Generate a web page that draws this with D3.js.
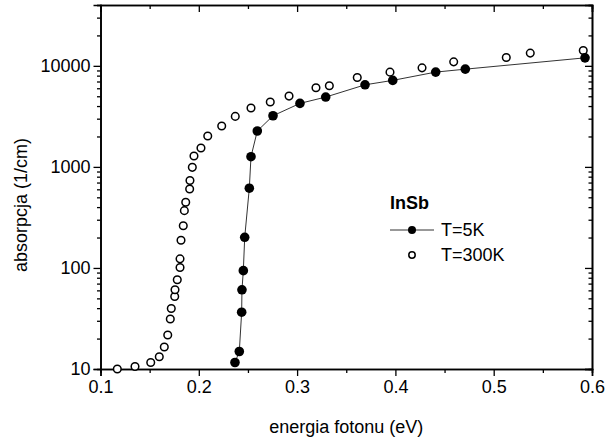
<!DOCTYPE html>
<html>
<head>
<meta charset="utf-8">
<script src="https://cdn.jsdelivr.net/npm/d3@7"></script>
<style>
  body { margin: 0; background: #fff; }
  text { font-family: "Liberation Sans", Arial, sans-serif; }
</style>
</head>
<body>
<div id="wykres"></div>
<script>
// dane
const energia_5K = [0.2368, 0.2412, 0.2436, 0.2439, 0.2453, 0.2467, 0.2514, 0.2531, 0.2595, 0.2755,
                    0.3029, 0.3291, 0.3691, 0.3973, 0.441, 0.4711, 0.5929];
const absorpcja_5K = [11.6, 14.9, 36.5, 60.8, 94, 201, 615, 1262, 2265, 3206,
                      4250, 4910, 6490, 7180, 8670, 9270, 12000];

const energia_300K = [0.1171, 0.1351, 0.1511, 0.1598, 0.1649, 0.1684, 0.171, 0.172, 0.1755, 0.1758,
                      0.1781, 0.1809, 0.1809, 0.1819, 0.1842, 0.1853, 0.1867, 0.1907, 0.191, 0.1934,
                      0.1951, 0.2022, 0.2091, 0.2233, 0.2371, 0.2531, 0.2727, 0.2918, 0.3192, 0.3328,
                      0.3612, 0.3945, 0.4271, 0.4593, 0.5128, 0.5372, 0.5911];
const absorpcja_300K = [10, 10.6, 11.6, 13.2, 16.5, 21.7, 31.2, 39.7, 52.1, 60.8,
                        76.3, 101, 123, 188, 262, 369, 447, 605, 734, 990,
                        1282, 1540, 2020, 2535, 3160, 3820, 4380, 5020, 6070, 6350,
                        7670, 8660, 9550, 10950, 12100, 13370, 14200];

const xTicks = [0.1, 0.2, 0.3, 0.4, 0.5, 0.6];
const yTicks = [10, 100, 1000, 10000];
const legenda = ["T=5K", "T=300K"];

const W = 607, H = 441;
const m = {left: 100.5, right: 15, top: 5, bottom: 72};

const svg = d3.select("#wykres").append("svg")
    .attr("width", W)
    .attr("height", H);

const x = d3.scaleLinear().domain([0.1, 0.6]).range([m.left, W - m.right]);
const y = d3.scaleLog().domain([10, 40000]).range([H - m.bottom, m.top]);

const minorX = d3.range(0.15, 0.6, 0.1);
const minorY = [];
[10, 100, 1000, 10000].forEach(d => {
    for (let k = 2; k <= 9; k++) if (d * k <= 40000) minorY.push(d * k);
});

function fmt(d){ return d3.format(".1f")(d); }

// osie dolna i lewa (ticki na zewnątrz)
const osX = svg.append("g").attr("transform", `translate(0,${H - m.bottom})`)
    .call(d3.axisBottom(x).tickValues(xTicks).tickFormat(fmt).tickSize(7).tickPadding(4));
svg.append("g").attr("transform", `translate(0,${H - m.bottom})`)
    .call(d3.axisBottom(x).tickValues(minorX).tickFormat("").tickSize(4));

const osY = svg.append("g").attr("transform", `translate(${m.left},0)`)
    .call(d3.axisLeft(y).tickValues(yTicks).tickFormat(d3.format("d")).tickSize(7).tickPadding(3));
svg.append("g").attr("transform", `translate(${m.left},0)`)
    .call(d3.axisLeft(y).tickValues(minorY).tickFormat("").tickSize(3.5));

// osie górna i prawa (ticki do środka)
svg.append("g").attr("transform", `translate(0,${m.top})`)
    .call(d3.axisTop(x).tickValues(xTicks).tickFormat("").tickSize(-7));
svg.append("g").attr("transform", `translate(0,${m.top})`)
    .call(d3.axisTop(x).tickValues(minorX).tickFormat("").tickSize(-4));
svg.append("g").attr("transform", `translate(${W - m.right},0)`)
    .call(d3.axisRight(y).tickValues(yTicks).tickFormat("").tickSize(-7));
svg.append("g").attr("transform", `translate(${W - m.right},0)`)
    .call(d3.axisRight(y).tickValues(minorY).tickFormat("").tickSize(-3.5));

svg.selectAll(".domain").attr("stroke", "#000").attr("stroke-width", 1.6);
svg.selectAll(".tick line").attr("stroke", "#000").attr("stroke-width", 1.3);
svg.selectAll(".tick text").attr("font-size", 18).attr("fill", "#000")
    .attr("font-family", "Liberation Sans, Arial, sans-serif");

// podpisy osi
svg.append("text")
    .attr("x", (m.left + W - m.right) / 2)
    .attr("y", 433)
    .attr("text-anchor", "middle")
    .attr("font-size", 18)
    .text("energia fotonu (eV)");

svg.append("text")
    .attr("transform", `translate(27,${(m.top + H - m.bottom) / 2 + 18}) rotate(-90)`)
    .attr("text-anchor", "middle")
    .attr("font-size", 18)
    .text("absorpcja (1/cm)");

// dane
const dane5 = energia_5K.map((e, i) => [e, absorpcja_5K[i]]);
const dane300 = energia_300K.map((e, i) => [e, absorpcja_300K[i]]);

const linia = d3.line().x(d => x(d[0])).y(d => y(d[1]));

svg.append("path")
    .datum(dane5)
    .attr("d", linia)
    .attr("fill", "none")
    .attr("stroke", "#333")
    .attr("stroke-width", 1);

svg.append("g").selectAll("circle")
    .data(dane300)
    .join("circle")
    .attr("cx", d => x(d[0]))
    .attr("cy", d => y(d[1]))
    .attr("r", 3.8)
    .attr("fill", "#fff")
    .attr("stroke", "#000")
    .attr("stroke-width", 1.5);

svg.append("g").selectAll("circle")
    .data(dane5)
    .join("circle")
    .attr("cx", d => x(d[0]))
    .attr("cy", d => y(d[1]))
    .attr("r", 4.8)
    .attr("fill", "#000");

// legenda
const leg = svg.append("g");
leg.append("text").attr("x", 390).attr("y", 209)
    .attr("font-size", 18).attr("font-weight", "bold").text("InSb");
leg.append("line").attr("x1", 390).attr("x2", 434).attr("y1", 230).attr("y2", 230)
    .attr("stroke", "#333").attr("stroke-width", 1);
leg.append("circle").attr("cx", 412).attr("cy", 230).attr("r", 4).attr("fill", "#000");
leg.append("circle").attr("cx", 412).attr("cy", 255).attr("r", 3.2)
    .attr("fill", "#fff").attr("stroke", "#000").attr("stroke-width", 1.5);
leg.selectAll("text.etykieta")
    .data(legenda)
    .join("text")
    .attr("class", "etykieta")
    .attr("x", 441)
    .attr("y", (d, i) => 236 + i * 25)
    .attr("font-size", 18)
    .text(d => d);
</script>
</body>
</html>
